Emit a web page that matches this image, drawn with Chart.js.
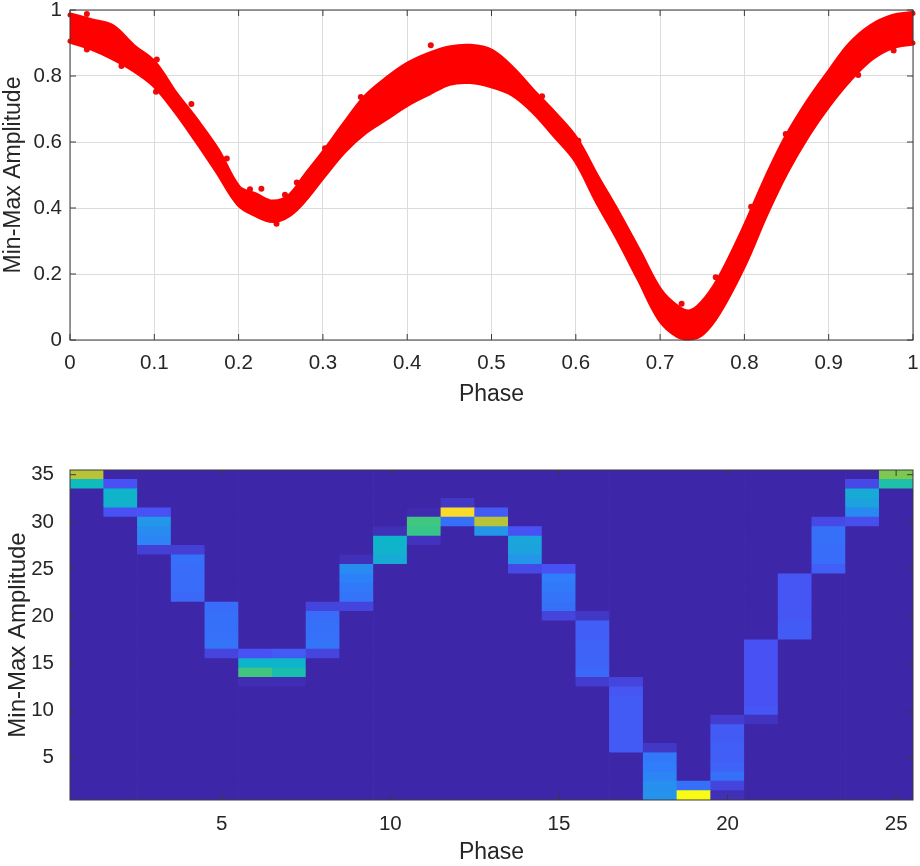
<!DOCTYPE html>
<html>
<head>
<meta charset="utf-8">
<title>Phase curve</title>
<script src="https://cdn.jsdelivr.net/npm/chart.js@4"></script>
<style>
  body { margin: 0; background: #fff; width: 920px; height: 866px; overflow: hidden; position: relative; }
  canvas { position: absolute; left: 0; }
  #curve { top: 0; }
  #heat { top: 460px; }
</style>
</head>
<body>
<canvas id="curve" width="920" height="408"></canvas>
<canvas id="heat" width="920" height="406"></canvas>
<script>
// Top panel: band of the folded curve
const phase = [0, 0.025, 0.05, 0.075, 0.1, 0.125, 0.15, 0.175, 0.2, 0.22, 0.24, 0.26, 0.28, 0.3, 0.325, 0.35, 0.375, 0.4, 0.425, 0.45, 0.475, 0.5, 0.525, 0.55, 0.575, 0.6, 0.625, 0.65, 0.675, 0.7, 0.72, 0.735, 0.75, 0.77, 0.8, 0.825, 0.85, 0.875, 0.9, 0.925, 0.95, 0.975, 1];
const bandUpper = [0.985, 0.968, 0.95, 0.89, 0.84, 0.747, 0.665, 0.575, 0.462, 0.44, 0.418, 0.435, 0.5, 0.565, 0.652, 0.735, 0.79, 0.835, 0.865, 0.885, 0.89, 0.875, 0.822, 0.752, 0.685, 0.61, 0.495, 0.385, 0.268, 0.15, 0.1, 0.085, 0.112, 0.185, 0.34, 0.485, 0.615, 0.72, 0.81, 0.895, 0.95, 0.98, 0.99];
const bandLower = [0.906, 0.885, 0.856, 0.82, 0.772, 0.695, 0.605, 0.51, 0.412, 0.38, 0.362, 0.38, 0.43, 0.495, 0.572, 0.63, 0.672, 0.714, 0.747, 0.778, 0.783, 0.77, 0.745, 0.692, 0.62, 0.545, 0.422, 0.308, 0.185, 0.062, 0.015, 0.006, 0.02, 0.085, 0.23, 0.378, 0.51, 0.62, 0.712, 0.79, 0.852, 0.888, 0.9];
const strayX = [0.02, 0.02, 0.061, 0.103, 0.102, 0.144, 0.186, 0.227, 0.269, 0.245, 0.428, 0.345, 0.3025, 0.603, 0.56, 0.977, 0.935, 0.849, 0.808, 0.7255, 0.766, 0.2135, 0.255];
const strayY = [0.988, 0.88, 0.83, 0.85, 0.752, 0.715, 0.55, 0.458, 0.477, 0.352, 0.893, 0.736, 0.581, 0.604, 0.739, 0.877, 0.803, 0.624, 0.404, 0.11, 0.19, 0.457, 0.44];
const curveXTicks = [0, 0.1, 0.2, 0.3, 0.4, 0.5, 0.6, 0.7, 0.8, 0.9, 1];
const curveYTicks = [0, 0.2, 0.4, 0.6, 0.8, 1];

// Bottom panel: 25 columns, 35 rows. Each column lists its lit cells from the top one down
const columns = ['1', '2', '3', '4', '5', '6', '7', '8', '9', '10', '11', '12', '13', '14', '15', '16', '17', '18', '19', '20', '21', '22', '23', '24', '25'];
const topRow = [35, 34, 31, 27, 21, 16, 16, 21, 26, 29, 31, 32, 31, 29, 25, 20, 13, 6, 2, 9, 17, 24, 30, 34, 35];
const cellValues = [
  [0.75, 0.42],
  [0.1, 0.38, 0.37, 0.1],
  [0.1, 0.27, 0.24, 0.22, 0.06],
  [0.06, 0.17, 0.16, 0.16, 0.16, 0.15],
  [0.16, 0.17, 0.17, 0.17, 0.18, 0.07],
  [0.1, 0.38, 0.55, 0.015],
  [0.12, 0.38, 0.45, 0.015],
  [0.07, 0.16, 0.17, 0.17, 0.18, 0.07],
  [0.02, 0.24, 0.21, 0.19, 0.18, 0.07],
  [0.02, 0.38, 0.37, 0.34],
  [0.01, 0.55, 0.53, 0.03],
  [0.04, 0.93, 0.17],
  [0.12, 0.75, 0.27],
  [0.1, 0.32, 0.31, 0.27, 0.08],
  [0.1, 0.2, 0.19, 0.18, 0.17, 0.07],
  [0.04, 0.13, 0.13, 0.14, 0.14, 0.14, 0.15, 0.05],
  [0.07, 0.11, 0.12, 0.12, 0.12, 0.12, 0.12, 0.12],
  [0.04, 0.19, 0.2, 0.22, 0.25, 0.26],
  [0.17, 1],
  [0.05, 0.12, 0.12, 0.13, 0.13, 0.14, 0.17, 0.07, 0.02],
  [0.1, 0.1, 0.1, 0.1, 0.1, 0.1, 0.1, 0.11, 0.03],
  [0.11, 0.11, 0.11, 0.11, 0.11, 0.12, 0.12],
  [0.08, 0.17, 0.17, 0.16, 0.16, 0.13],
  [0.08, 0.34, 0.31, 0.23, 0.09],
  [0.65, 0.47]
];
const heatXTicks = [5, 10, 15, 20, 25];
const heatYTicks = [5, 10, 15, 20, 25, 30, 35];
const rowCount = 35;

// parula-like colour stops, one per 0.1 of the scale
const parula = [[62, 38, 168], [72, 82, 244], [47, 125, 250], [30, 160, 225], [10, 185, 195], [40, 195, 155], [90, 200, 100], [160, 200, 60], [210, 190, 50], [250, 205, 50], [249, 251, 21]];

function cellColor(v) {
  const pos = v * (parula.length - 1);
  const i = Math.min(Math.floor(pos), parula.length - 2);
  const t = pos - i;
  const rgb = parula[i].map((c, k) => Math.round(c + (parula[i + 1][k] - c) * t));
  return `rgb(${rgb.join(',')})`;
}

function cellAt(col, row) {
  const idx = topRow[col] - row;
  const vals = cellValues[col];
  return idx >= 0 && idx < vals.length ? vals[idx] : 0;
}

const textColor = '#262626';
const axisFont = { family: '"Liberation Sans", Helvetica, Arial, sans-serif', size: 20.5 };
const titleFont = { family: '"Liberation Sans", Helvetica, Arial, sans-serif', size: 23 };

// MATLAB style box with inward ticks on all four sides
const boxPlugin = {
  id: 'box',
  afterDraw(chart) {
    const { ctx, chartArea: a, scales } = chart;
    ctx.save();
    ctx.strokeStyle = '#3a3a3a';
    ctx.lineWidth = 1;
    ctx.strokeRect(a.left, a.top, a.right - a.left, a.bottom - a.top);
    ctx.beginPath();
    scales.x.ticks.forEach((t, i) => {
      const x = scales.x.getPixelForTick(i);
      ctx.moveTo(x, a.bottom); ctx.lineTo(x, a.bottom - 6);
      ctx.moveTo(x, a.top); ctx.lineTo(x, a.top + 6);
    });
    scales.y.ticks.forEach((t, i) => {
      const y = scales.y.getPixelForTick(i);
      ctx.moveTo(a.left, y); ctx.lineTo(a.left + 6, y);
      ctx.moveTo(a.right, y); ctx.lineTo(a.right - 6, y);
    });
    ctx.stroke();
    ctx.restore();
  }
};

function fixY(s) { s.width = 70; s.paddingTop = 0; s.paddingBottom = 0; }

new Chart(document.getElementById('curve'), {
  data: {
    datasets: [
      {
        type: 'line',
        data: phase.map((p, i) => ({ x: p, y: bandUpper[i] })),
        borderColor: '#ff0000', borderWidth: 5, pointRadius: 0,
        backgroundColor: '#ff0000', fill: '+1',
        tension: 0.35, clip: false, borderCapStyle: 'round', borderJoinStyle: 'round'
      },
      {
        type: 'line',
        data: phase.map((p, i) => ({ x: p, y: bandLower[i] })),
        borderColor: '#ff0000', borderWidth: 5, pointRadius: 0,
        tension: 0.35, clip: false, borderCapStyle: 'round', borderJoinStyle: 'round'
      },
      {
        type: 'scatter',
        data: strayX.map((x, i) => ({ x: x, y: strayY[i] })),
        backgroundColor: '#ee0a0a', borderWidth: 0, pointRadius: 3, clip: false
      }
    ]
  },
  options: {
    responsive: false,
    animation: false,
    layout: { padding: { top: 10, right: 7, left: 0, bottom: 0 } },
    plugins: { legend: { display: false }, tooltip: { enabled: false } },
    scales: {
      x: {
        type: 'linear', min: 0, max: 1,
        afterBuildTicks: s => { s.ticks = curveXTicks.map(v => ({ value: v })); },
        afterFit: s => { s.height = 68; s.paddingLeft = 0; s.paddingRight = 0; },
        grid: { color: '#dcdcdc', drawTicks: false },
        border: { display: false },
        ticks: { color: textColor, font: axisFont, padding: 11, maxRotation: 0, autoSkip: false, callback: v => String(v) },
        title: { display: true, text: 'Phase', color: textColor, font: titleFont, padding: { top: 0, bottom: 0 } }
      },
      y: {
        type: 'linear', min: 0, max: 1,
        afterBuildTicks: s => { s.ticks = curveYTicks.map(v => ({ value: v })); },
        afterFit: fixY,
        grid: { color: '#dcdcdc', drawTicks: false },
        border: { display: false },
        ticks: { color: textColor, font: axisFont, padding: 8, autoSkip: false, callback: v => String(v) },
        title: { display: true, text: 'Min-Max Amplitude', color: textColor, font: titleFont, padding: { top: 0, bottom: 0 } }
      }
    }
  },
  plugins: [boxPlugin]
});

// one floating bar dataset per row, coloured cell by cell
const rowSets = [];
for (let r = 1; r <= rowCount; r++) {
  rowSets.push({
    data: columns.map(() => [r - 0.5, r + 0.5]),
    backgroundColor: columns.map((c, i) => cellColor(cellAt(i, r))),
    borderWidth: 0,
    barPercentage: 1,
    categoryPercentage: 1,
    grouped: false
  });
}

new Chart(document.getElementById('heat'), {
  type: 'bar',
  data: { labels: columns, datasets: rowSets },
  options: {
    responsive: false,
    animation: false,
    layout: { padding: { top: 10, right: 7, left: 0, bottom: 0 } },
    plugins: { legend: { display: false }, tooltip: { enabled: false } },
    scales: {
      x: {
        type: 'category', offset: true,
        afterBuildTicks: s => { s.ticks = heatXTicks.map(v => ({ value: v - 1 })); },
        afterFit: s => { s.height = 66; s.paddingLeft = 0; s.paddingRight = 0; },
        grid: { display: false },
        border: { display: false },
        ticks: { color: textColor, font: axisFont, padding: 4, maxRotation: 0, autoSkip: false },
        title: { display: true, text: 'Phase', color: textColor, font: titleFont, padding: { top: 0, bottom: 0 } }
      },
      y: {
        type: 'linear', min: 0.5, max: 35.5,
        afterBuildTicks: s => { s.ticks = heatYTicks.map(v => ({ value: v })); },
        afterFit: fixY,
        grid: { display: false },
        border: { display: false },
        ticks: { color: textColor, font: axisFont, padding: 8, autoSkip: false, callback: v => String(v) },
        title: { display: true, text: 'Min-Max Amplitude', color: textColor, font: Object.assign({}, titleFont, { size: 24 }), padding: { top: 4, bottom: 0 } }
      }
    }
  },
  plugins: [boxPlugin]
});
</script>
</body>
</html>
